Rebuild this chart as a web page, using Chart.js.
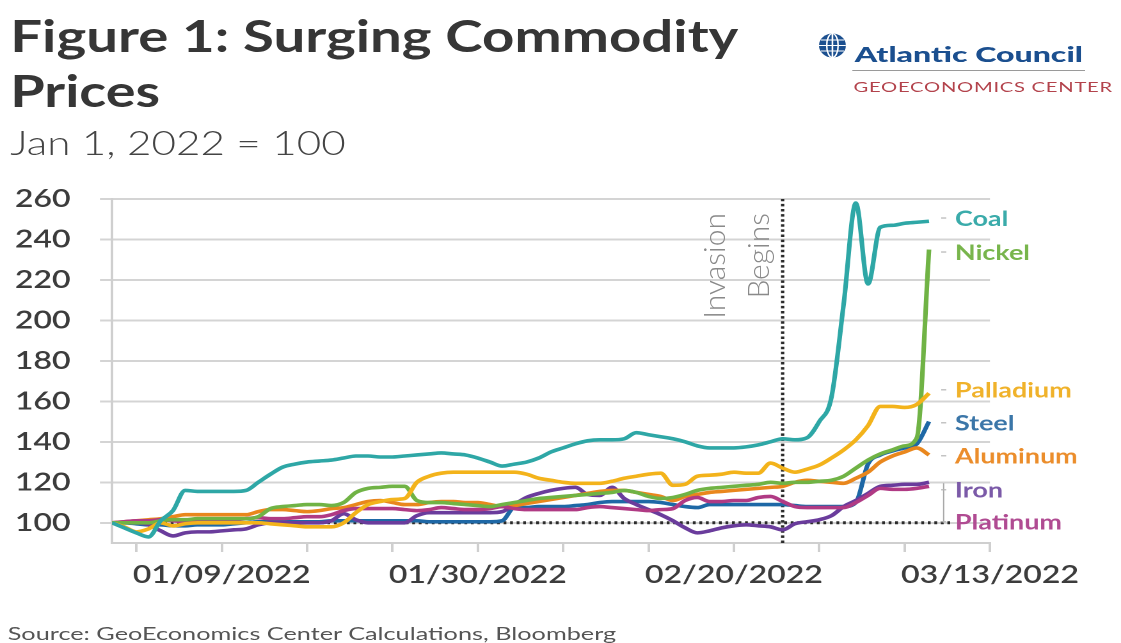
<!DOCTYPE html>
<html>
<head>
<meta charset="utf-8">
<script src="https://cdn.jsdelivr.net/npm/chart.js@4.4.1/dist/chart.umd.min.js"></script>
<style>
  html,body{margin:0;padding:0;background:#fff;overflow:hidden;}
  body{width:1121px;height:643px;position:relative;font-family:Lato,"Open Sans",sans-serif;}
  #stage{position:absolute;left:0;top:0;width:876px;height:643px;transform:scaleX(1.2797);transform-origin:0 0;}
  #c{position:absolute;left:0;top:0;}
  .txt{position:absolute;white-space:nowrap;line-height:1;transform-origin:0 0;}
  .rot{position:absolute;width:200px;text-align:right;font:300 30px Lato,sans-serif;line-height:30px;color:#8a8a8a;transform:rotate(-90deg);transform-origin:0 0;white-space:nowrap;}
</style>
</head>
<body>
<div id="stage">
  <canvas id="c" width="876" height="643" style="width:876px;height:643px"></canvas>
  <div class="txt" id="t1" data-w="568.9" style="left:7.8px;top:9px;font:700 44px Lato,sans-serif;color:#363636;">Figure 1: Surging Commodity</div>
  <div class="txt" id="t2" data-w="117" style="left:7.8px;top:64px;font:700 44px Lato,sans-serif;color:#363636;">Prices</div>
  <div class="txt" id="sub" data-w="261.8" style="left:7.8px;top:121px;font:300 34px Lato,sans-serif;color:#444;">Jan 1, 2022 = 100</div>
  <div class="txt" id="src" data-w="476" style="left:6.3px;top:622px;font:400 18px Lato,sans-serif;color:#555;">Source: GeoEconomics Center Calculations, Bloomberg</div>
  <svg style="position:absolute;left:639px;top:32px" width="23" height="27" viewBox="0 0 23 27">
    <ellipse cx="11.5" cy="13.5" rx="10.5" ry="12" fill="#1b4f8f"/>
    <g stroke="#fff" stroke-width="1.2" fill="none">
      <ellipse cx="11.5" cy="13.5" rx="4.5" ry="12"/>
      <line x1="11.5" y1="1.5" x2="11.5" y2="25.5"/>
      <line x1="1" y1="13.5" x2="22" y2="13.5"/>
      <line x1="2.5" y1="8" x2="20.5" y2="8"/>
      <line x1="2.5" y1="19" x2="20.5" y2="19"/>
    </g>
  </svg>
  <div class="txt" id="ac" data-w="178" style="left:668px;top:41.5px;font:900 20px Lato,sans-serif;color:#1b4f8f;">Atlantic Council</div>
  <div style="position:absolute;left:665.8px;top:70px;width:182px;height:1px;background:#9a9a9a;"></div>
  <div class="txt" id="geo" data-w="203" style="left:666.5px;top:78px;font:400 14px Lato,sans-serif;color:#b3434c;letter-spacing:0.5px;">GEOECONOMICS CENTER</div>
</div>
<div class="rot" style="left:698px;top:413px;">Invasion</div>
<div class="rot" style="left:742px;top:413px;">Begins</div>
<script>
// ---- data (days since Jan 1, 2022; Dec 31 = -1) ----
const days = [-1,0,1,2,3,4,5,6,7,8,9,10,11,12,13,14,15,16,17,18,19,20,21,22,23,24,25,26,27,28,29,30,31,32,33,34,35,36,37,38,39,40,41,42,43,44,45,46,47,48,49,50,51,52,53,54,55,56,57,58,59,60,61,62,63,64,65,66];
const coal = [100,97.5,95,93,101,106,116,115.5,115.5,115.5,115.5,116,120,124,127.5,129,130,130.5,131,132,133,133,132.5,132.5,133,133.5,134,134.5,134,133.5,132,130,128,129,130,132,135,137,139,140.5,141,141,141.5,144.5,143.5,142.5,141.5,140,138,137,137,137,137.5,138.5,140,141.5,141,142,150,162,208,258,218,246,247,248,248.5,249];
const nickel = [100,100,100,100,101,101.5,101.5,102,102,102,102,102,103,107,108,108.5,109,109,108.5,110,115,117,117.5,118,118,111,110,110,109.5,109,108.5,108,109,110,111,112,112.5,113,113.5,114,114.5,115,116,115,113,112,112.5,114,116,117,117.5,118,118.5,119,120,119.5,120,120,120.5,121,123,127,131,134,136,138,142,235];
const palladium = [100,98,95.5,97,100,98.5,99.5,100,100,100,100,100,100,99.5,99,98.5,98,98,98,100,105,109,110.5,111.5,112,120,123,124.5,125,125,125,125,125,125,124,122,121,120,119.5,119.5,119.5,120.5,122,123,124,124.5,118.5,119,123,123.5,124,125,124.5,124.5,129.5,127,125,126.5,128.5,132,136,141,148,157.5,157.5,157,158.5,164];
const steel = [100,100,99.5,99,99,98.5,98.5,99,99,99,99.5,100,100.5,100.5,100.5,100.5,100.5,100.5,101,101,101,101,101,101,101,101,100.5,100.5,100.5,100.5,100.5,100.5,101,107.5,107.5,108,108,108,108.5,109,110,110.5,110.5,110.5,110.5,110,109,108,107.5,109,109,109,109,109,109,109,108.5,108,108,108,108,110,129,133.5,135.5,137,139,150];
const aluminum = [100,100.5,101,101.5,102,103,104,104,104,104,104,104,105.5,106.5,106.5,106,105.5,106,107,107.5,109,110.5,111,110,109,109,110,110.5,110.5,110,110,109,108,108.5,109.5,110.5,111.5,112.5,113.5,114.5,115.5,116,116,115,114,113,111,113,114,115,115.5,116,116.5,117,117.5,118,120,121,120.5,120,119.5,122,125,130,133,135,137,133.5];
const iron = [100,100,100,99,96,93.5,95,95.5,95.5,96,96.5,97,99,100,100,100,100,100,101,104.5,101.5,100,100,100,100,103.5,105,105,105,105,105,105,105.5,109,112.5,114.5,116,117,117.5,114,113.5,117.5,112,109,106.5,104,101,97.5,95,96,97.5,98.5,99,98.5,98,96.5,99.5,100.5,101.5,103.5,108,111,114.5,118,118.5,119,119,120];
const platinum = [100,100.5,101,101,101.5,101,100.5,100.5,101,101,101.5,102,102.5,102,102,102.5,103,103,104,106,107,107,107,107,106.5,106,106.5,107.5,107,106.5,106.5,107,108,107,106.5,106.5,106.5,106.5,106.5,107.5,108,107.5,107,106.5,106,106.5,107,111,112.5,110.5,110.5,111,111,112.5,113,110.5,108,107.5,107.5,107.5,107.5,110,113.5,117,116.5,116.5,117,118];

const seriesNames = ['Coal','Nickel','Palladium','Steel','Aluminum','Iron','Platinum'];
const seriesValues = [coal, nickel, palladium, steel, aluminum, iron, platinum];
const lineColors = ['#2ea7a6','#70b345','#f3b31b','#1e68a6','#e9871d','#6a3c9c','#b03a84'];
const labelColors = ['#3aabaa','#78b54c','#f0b22a','#3b76a8','#eb8d2b','#7b5aa8','#b04b92'];
const labelAt = [250.6, 233.8, 165.7, 149.4, 133.1, 116.3, 100.5];
const drawOrder = [0, 2, 1, 6, 4, 5, 3];

const yTicks = [100,120,140,160,180,200,220,240,260];
const xTickDays = [1,8,15,22,29,36,43,50,57,64,71];
const labelDays = [8,29,50,71];
const labelTexts = ['01/09/2022','01/30/2022','02/20/2022','03/13/2022'];
const invasionDay = 54;
const baseValue = 100;
const baseEnd = 68;
const ironLeaderDay = 67.2;
const ironLeaderTop = 119.5;

// fit HTML text widths
document.querySelectorAll('.txt[data-w]').forEach(el => {
  const w = el.offsetWidth;
  const target = parseFloat(el.dataset.w);
  el.style.transform = 'scaleX(' + (target / w) + ')';
});

Chart.defaults.font.family = 'Lato';

const datasets = drawOrder.map(i => ({
  label: seriesNames[i],
  data: days.map((d, k) => ({x: d, y: seriesValues[i][k]})),
  borderColor: lineColors[i],
  borderWidth: 3.6,
  pointRadius: 0,
  cubicInterpolationMode: 'monotone',
  fill: false
}));
datasets.push({
  label: 'leader',
  data: [{x: ironLeaderDay, y: baseValue}, {x: ironLeaderDay, y: ironLeaderTop}],
  borderColor: '#a8a8a8', borderWidth: 1, pointRadius: 0
});
datasets.push({
  label: 'base',
  data: [{x: days[0], y: baseValue}, {x: baseEnd, y: baseValue}],
  borderColor: '#2b2b2b', borderWidth: 3, borderDash: [2.2, 2.9], pointRadius: 0
});
datasets.push({
  label: 'invasion',
  data: [{x: invasionDay, y: 90}, {x: invasionDay, y: 260}],
  borderColor: '#2b2b2b', borderWidth: 2.6, borderDash: [2.5, 2.6], pointRadius: 0
});

const endLabels = {
  id: 'endLabels',
  afterDatasetsDraw(chart) {
    const ctx = chart.ctx, y = chart.scales.y;
    ctx.save();
    ctx.font = '700 21px Lato';
    ctx.textBaseline = 'middle';
    seriesNames.forEach((n, i) => {
      const py = y.getPixelForValue(labelAt[i]);
      ctx.fillStyle = labelColors[i];
      ctx.fillText(n, 746.3, py + 1);
      ctx.strokeStyle = '#b5b5b5';
      ctx.lineWidth = 1.2;
      ctx.beginPath();
      ctx.moveTo(735.5, py);
      ctx.lineTo(739.5, py);
      ctx.stroke();
    });
    ctx.restore();
  }
};

new Chart(document.getElementById('c'), {
  type: 'line',
  data: {datasets},
  plugins: [endLabels],
  options: {
    responsive: false,
    animation: false,
    devicePixelRatio: 2,
    layout: {padding: {top: 199, left: 0, right: 102.4, bottom: 0}},
    plugins: {legend: {display: false}, tooltip: {enabled: false}},
    scales: {
      x: {
        type: 'linear', min: -1, max: 71,
        afterBuildTicks: s => { s.ticks = xTickDays.map(v => ({value: v})); },
        afterFit: s => { s.height = 100; },
        ticks: {
          autoSkip: false, maxRotation: 0, padding: 8, color: '#3c3c3c',
          font: {size: 25, weight: '600'},
          callback: v => { const i = labelDays.indexOf(v); return i >= 0 ? labelTexts[i] : ''; }
        },
        grid: {drawOnChartArea: false, drawTicks: true, tickLength: 9, color: '#cfcfcf', lineWidth: 2},
        border: {display: true, color: '#cfcfcf', width: 2}
      },
      y: {
        min: 90, max: 260,
        afterBuildTicks: s => { s.ticks = yTicks.map(v => ({value: v})); },
        afterFit: s => { s.width = 87.5; },
        ticks: {padding: 23, color: '#3c3c3c', font: {size: 25, weight: '600'}},
        grid: {color: '#d4d4d4', lineWidth: 2, tickLength: 9.4},
        border: {display: true, color: '#cfcfcf', width: 2}
      }
    }
  }
});
</script>
</body>
</html>
